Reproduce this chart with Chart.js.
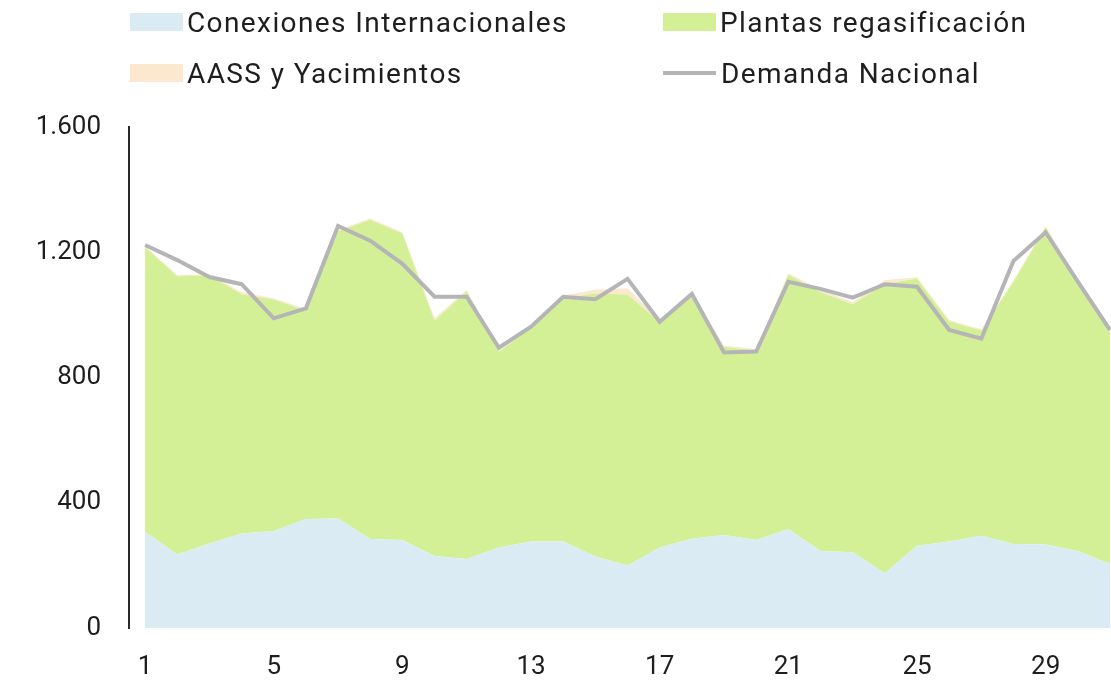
<!DOCTYPE html>
<html>
<head>
<meta charset="utf-8">
<script src="https://cdn.jsdelivr.net/npm/chart.js@4/dist/chart.umd.min.js"></script>
<style>
  html, body { margin: 0; padding: 0; background: #fff; overflow: hidden; width: 1111px; height: 683px; }
  #wrap { position: absolute; left: 0; top: 0; width: 1134px; height: 683px; }
  #legend { position: absolute; left: 130px; top: 0; width: 981px; font-family: Roboto, sans-serif; font-size: 28px; letter-spacing: 1.4px; color: #1e1e1e; }
  .item { position: absolute; display: flex; align-items: center; height: 40px; white-space: nowrap; }
  .sw { display: inline-block; width: 53px; height: 18px; margin-right: 4px; }
  .ln { display: inline-block; width: 53px; height: 4px; margin-right: 5px; }
</style>
</head>
<body>
<div id="wrap"><canvas id="chartArea" width="1134" height="683"></canvas></div>
<div id="legend"></div>
<script>
const days = Array.from({ length: 31 }, (_, i) => String(i + 1));

const conexiones = [307, 235, 270, 302, 310, 348, 350, 284, 281, 230, 220, 257, 276, 276, 228, 200,
  257, 285, 297, 281, 316, 246, 242, 175, 263, 276, 295, 268, 267, 246, 204];
const plantas = [909, 888, 856, 764, 739, 666, 917, 1020, 979, 751, 856, 625, 683, 778, 840, 865,
  720, 778, 601, 605, 813, 826, 792, 924, 853, 704, 655, 838, 1013, 856, 740];
const aass = [4, 4, 4, 6, 4, 4, 4, 4, 4, 8, 4, 6, 6, 8, 12, 20,
  6, 4, 4, 4, 4, 8, 6, 12, 4, 4, 4, 4, 4, 4, 4];
const demanda = [1223, 1175, 1121, 1098, 989, 1021, 1284, 1237, 1163, 1058, 1058, 895, 962, 1058, 1050, 1115,
  978, 1067, 880, 883, 1106, 1083, 1055, 1098, 1090, 952, 924, 1172, 1264, 1106, 952];

const yTicks = [0, 400, 800, 1200, 1600];

const fontFamily = 'Roboto, sans-serif';
const textColor = '#1e1e1e';

function fmt(v) {
  // spanish thousands separator
  return String(v).replace(/\B(?=(\d{3})+(?!\d))/g, '.');
}

const chartDoc = document.getElementById('chartArea');
const chart = new Chart(chartDoc, {
  type: 'line',
  data: {
    labels: days,
    datasets: [
      {
        label: 'Conexiones Internacionales',
        data: conexiones,
        stack: 'oferta',
        backgroundColor: '#dbebf3',
        borderWidth: 0,
        fill: 'origin',
        pointRadius: 0,
      },
      {
        label: 'Plantas regasificación',
        data: plantas,
        stack: 'oferta',
        backgroundColor: '#d4f096',
        borderWidth: 0,
        fill: '-1',
        pointRadius: 0,
      },
      {
        label: 'AASS y Yacimientos',
        data: aass,
        stack: 'oferta',
        backgroundColor: '#fbe8cf',
        borderWidth: 0,
        fill: '-1',
        pointRadius: 0,
      },
      {
        label: 'Demanda Nacional',
        data: demanda,
        stack: 'demanda',
        borderColor: '#b5b5b7',
        borderWidth: 4,
        fill: false,
        pointRadius: 0,
      },
    ],
  },
  options: {
    responsive: false,
    animation: false,
    devicePixelRatio: 1,
    layout: { padding: { top: 127, right: 1, bottom: 0, left: 0 } },
    plugins: {
      legend: { display: false },
      tooltip: { enabled: false },
      // all areas first, so the demand line stays on top
      filler: { drawTime: 'beforeDatasetsDraw' },
    },
    scales: {
      x: {
        offset: true,
        afterFit: function (s) { s.height = 55; },
        grid: { display: false, drawTicks: false },
        border: { display: false },
        ticks: {
          autoSkip: false,
          maxRotation: 0,
          padding: 24,
          color: textColor,
          font: { family: fontFamily, size: 26 },
          callback: function (val, i) { return i % 4 === 0 ? days[i] : ''; },
        },
      },
      y: {
        stacked: true,
        min: 0,
        max: 1600,
        afterBuildTicks: function (s) { s.ticks = yTicks.map(v => ({ value: v })); },
        afterFit: function (s) { s.width = 129; },
        grid: { display: false, drawTicks: false },
        border: { display: true, color: '#2a2a2a', width: 2 },
        ticks: {
          padding: 28,
          color: textColor,
          font: { family: fontFamily, size: 26 },
          callback: function (v) { return fmt(v); },
        },
      },
    },
  },
});

// html legend in two columns like the original
const legend = document.getElementById('legend');
const cols = [0, 533];
const rows = [2, 53];
chart.data.datasets.forEach((ds, i) => {
  const item = document.createElement('div');
  item.className = 'item';
  item.style.left = cols[i % 2] + 'px';
  item.style.top = rows[Math.floor(i / 2)] + 'px';
  const sw = document.createElement('span');
  if (ds.fill === false) {
    sw.className = 'ln';
    sw.style.background = ds.borderColor;
  } else {
    sw.className = 'sw';
    sw.style.background = ds.backgroundColor;
  }
  const txt = document.createElement('span');
  txt.textContent = ds.label;
  item.appendChild(sw);
  item.appendChild(txt);
  legend.appendChild(item);
});
</script>
</body>
</html>
